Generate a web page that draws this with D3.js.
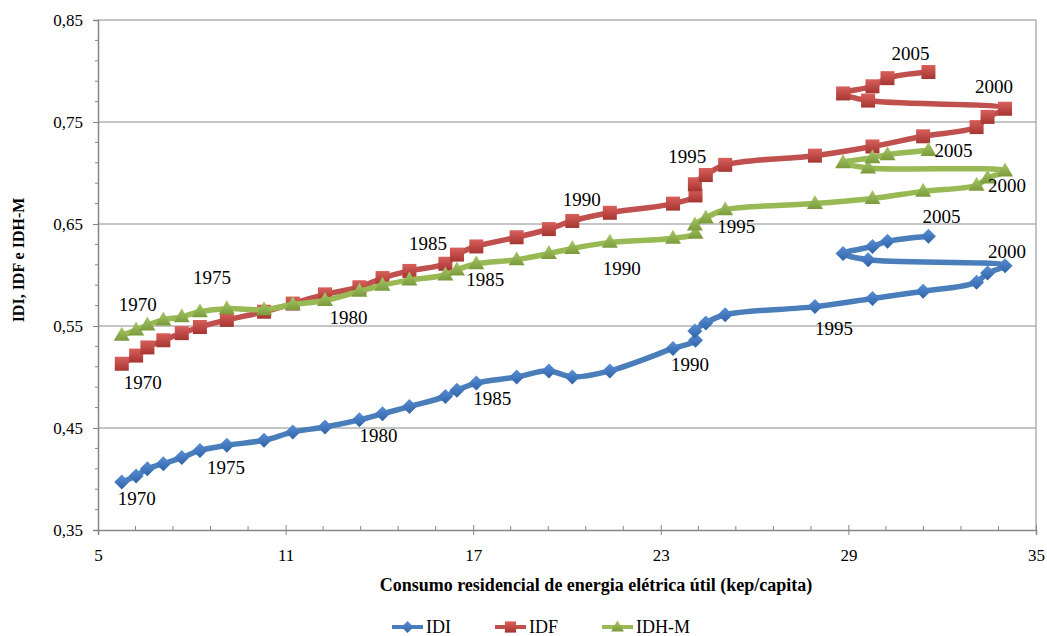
<!DOCTYPE html>
<html>
<head>
<meta charset="utf-8">
<script src="https://cdn.jsdelivr.net/npm/d3@7"></script>
<style>
  body { margin: 0; background: #fff; }
  svg { font-family: "Liberation Serif", "Times New Roman", serif; }
</style>
</head>
<body>
<div id="chart"></div>
<script>
// consumo residencial de energia elétrica útil (kep/capita), 1970-2005
var consumo = [5.76, 6.22, 6.58, 7.09, 7.68, 8.26, 9.12, 10.31, 11.23, 12.26,
               13.36, 14.10, 14.96, 16.11, 16.48, 17.10, 18.39, 19.42, 20.17, 21.37,
               23.39, 24.11, 24.09, 24.44, 25.06, 27.93, 29.77, 31.39, 33.10, 33.45,
               34.01, 29.63, 28.83, 29.77, 30.25, 31.56];

var idi = [0.397, 0.403, 0.410, 0.415, 0.421, 0.428, 0.433, 0.438, 0.446, 0.451,
           0.458, 0.464, 0.471, 0.481, 0.487, 0.494, 0.500, 0.506, 0.500, 0.506,
           0.528, 0.536, 0.545, 0.553, 0.561, 0.569, 0.577, 0.584, 0.593, 0.602,
           0.609, 0.615, 0.621, 0.628, 0.633, 0.638];

var idf = [0.513, 0.521, 0.529, 0.536, 0.543, 0.549, 0.556, 0.564, 0.572, 0.581,
           0.588, 0.597, 0.604, 0.611, 0.620, 0.628, 0.637, 0.645, 0.653, 0.661,
           0.670, 0.678, 0.689, 0.698, 0.708, 0.717, 0.726, 0.736, 0.745, 0.755,
           0.763, 0.771, 0.778, 0.785, 0.793, 0.799];

var idhm = [0.541, 0.546, 0.551, 0.556, 0.559, 0.564, 0.567, 0.566, 0.571, 0.575,
            0.584, 0.590, 0.595, 0.600, 0.605, 0.611, 0.615, 0.621, 0.626, 0.632,
            0.636, 0.641, 0.649, 0.656, 0.664, 0.670, 0.675, 0.682, 0.688, 0.695,
            0.702, 0.705, 0.710, 0.715, 0.718, 0.722];

var xTicks = [5, 11, 17, 23, 29, 35];
var yTicks = [0.35, 0.45, 0.55, 0.65, 0.75, 0.85];

// year labels: point index and text
var idiLabels  = [[0, "1970"], [5, "1975"], [10, "1980"], [15, "1985"], [20, "1990"], [25, "1995"], [30, "2000"], [35, "2005"]];
var idfLabels  = [[0, "1970"], [14, "1985"], [19, "1990"], [24, "1995"], [30, "2000"], [35, "2005"]];
var idhmLabels = [[0, "1970"], [5, "1975"], [10, "1980"], [15, "1985"], [19, "1990"], [24, "1995"], [30, "2000"], [35, "2005"]];

// label offsets in px from the point
var idiOff  = [[15, 16], [26, 17], [19, 16], [16, 15], [17, 16], [19, 22], [2, -14], [13, -20]];
var idfOff  = [[21, 19], [-29, -11], [-28, -13], [-38, -8], [-11, -22], [-18, -19]];
var idhmOff = [[16, -31], [12, -34], [-11, 26], [9, 16], [12, 26], [11, 17], [2, 14], [25, 0]];

var width = 1047, height = 636;

var svg = d3.select("#chart").append("svg")
    .attr("width", width)
    .attr("height", height);

var x = d3.scaleLinear().domain([5, 35]).range([98, 1036]);
var y = d3.scaleLinear().domain([0.35, 0.85]).range([530, 20]);

var fmt = function(d) { return d3.format(".2f")(d).replace(".", ","); };

// gradients for markers
var defs = svg.append("defs");
function grad(id, top, bottom) {
  var g = defs.append("linearGradient").attr("id", id)
      .attr("x1", 0).attr("y1", 0).attr("x2", 0).attr("y2", 1);
  g.append("stop").attr("offset", "0%").attr("stop-color", top);
  g.append("stop").attr("offset", "100%").attr("stop-color", bottom);
}
grad("gBlue", "#5a8fd6", "#2f63a8");
grad("gRed", "#d9605c", "#a53532");
grad("gGreen", "#a8c96a", "#7a9a3c");

// gridlines
svg.append("g").selectAll("line")
  .data(yTicks.slice(1))
  .enter().append("line")
  .attr("x1", x(5)).attr("x2", x(35))
  .attr("y1", function(d) { return y(d); })
  .attr("y2", function(d) { return y(d); })
  .attr("stroke", "#8c8c8c")
  .attr("stroke-width", 1);

// right border
svg.append("line")
  .attr("x1", x(35)).attr("x2", x(35))
  .attr("y1", y(0.85)).attr("y2", y(0.35))
  .attr("stroke", "#8c8c8c");

// y axis
var yAxis = d3.axisLeft(y).tickValues(yTicks).tickFormat(fmt).tickSize(5).tickPadding(10);
var gy = svg.append("g").attr("transform", "translate(" + x(5) + ",0)").call(yAxis);
gy.select(".domain").attr("stroke", "#868686").attr("stroke-width", 1.5);
gy.selectAll(".tick line").attr("stroke", "#868686");
gy.selectAll("text").attr("font-size", 17).attr("fill", "#000")
  .attr("font-family", "Liberation Serif");
var yMinor = d3.range(0.37, 0.85, 0.02).filter(function(v) { return Math.abs((v - 0.35) / 0.1 - Math.round((v - 0.35) / 0.1)) > 0.01; });
svg.append("g").selectAll("line").data(yMinor).enter().append("line")
  .attr("x1", x(5) - 3).attr("x2", x(5))
  .attr("y1", function(d) { return y(d); }).attr("y2", function(d) { return y(d); })
  .attr("stroke", "#868686");

// x axis
var xAxis = d3.axisBottom(x).tickValues(xTicks).tickSize(5).tickPadding(14);
var gx = svg.append("g").attr("transform", "translate(0," + y(0.35) + ")").call(xAxis);
gx.select(".domain").attr("stroke", "#868686").attr("stroke-width", 1.5);
gx.selectAll(".tick line").attr("stroke", "#868686").attr("y1", -5);
gx.selectAll("text").attr("font-size", 17).attr("fill", "#000")
  .attr("font-family", "Liberation Serif");
var xMinor = d3.range(6.2, 35, 1.2).filter(function(v) { return Math.abs((v - 5) / 6 - Math.round((v - 5) / 6)) > 0.01; });
svg.append("g").selectAll("line").data(xMinor).enter().append("line")
  .attr("x1", function(d) { return x(d); }).attr("x2", function(d) { return x(d); })
  .attr("y1", y(0.35) - 4).attr("y2", y(0.35))
  .attr("stroke", "#868686");

// axis titles
svg.append("text")
  .attr("x", 596).attr("y", 591)
  .attr("text-anchor", "middle")
  .attr("font-size", 18).attr("font-weight", "bold")
  .text("Consumo residencial de energia elétrica útil (kep/capita)");

svg.append("text")
  .attr("transform", "translate(24,260) rotate(-90)")
  .attr("text-anchor", "middle")
  .attr("font-size", 16).attr("font-weight", "bold")
  .text("IDI, IDF e IDH-M");

// markers
function marker(sel, shape, fill) {
  if (shape === "diamond") {
    sel.append("path").attr("d", "M0,-7.5L7.5,0L0,7.5L-7.5,0Z").attr("fill", fill);
  } else if (shape === "square") {
    sel.append("rect").attr("x", -7).attr("y", -7).attr("width", 14).attr("height", 14)
      .attr("fill", fill);
  } else {
    sel.append("path").attr("d", "M0,-8.5L8,5.5L-8,5.5Z").attr("fill", fill);
  }
}

var series = [
  { name: "IDI",   values: idi,  color: "#4a7ebb", fill: "url(#gBlue)",  shape: "diamond", labels: idiLabels,  off: idiOff },
  { name: "IDF",   values: idf,  color: "#c0504d", fill: "url(#gRed)",   shape: "square",  labels: idfLabels,  off: idfOff },
  { name: "IDH-M", values: idhm, color: "#98b954", fill: "url(#gGreen)", shape: "triangle", labels: idhmLabels, off: idhmOff }
];

var line = d3.line()
  .x(function(d, i) { return x(consumo[i]); })
  .y(function(d) { return y(d); })
  .curve(d3.curveCatmullRom.alpha(0.5));

series.forEach(function(s) {
  svg.append("path")
    .datum(s.values)
    .attr("d", line)
    .attr("fill", "none")
    .attr("stroke", s.color)
    .attr("stroke-width", 5.5)
    .attr("stroke-linejoin", "round");

  svg.append("g").selectAll("g")
    .data(s.values)
    .enter().append("g")
    .attr("transform", function(d, i) { return "translate(" + x(consumo[i]) + "," + y(d) + ")"; })
    .each(function() { marker(d3.select(this), s.shape, s.fill); });
});

// year labels
series.forEach(function(s) {
  svg.append("g").selectAll("text")
    .data(s.labels)
    .enter().append("text")
    .attr("x", function(d, k) { return x(consumo[d[0]]) + s.off[k][0]; })
    .attr("y", function(d, k) { return y(s.values[d[0]]) + s.off[k][1]; })
    .attr("dy", "0.35em")
    .attr("text-anchor", "middle")
    .attr("font-size", 19)
    .text(function(d) { return d[1]; });
});

// legend
var legendX = [392, 495, 602];
var lg = svg.append("g").selectAll("g")
  .data(series)
  .enter().append("g")
  .attr("transform", function(d, i) { return "translate(" + legendX[i] + ",627)"; });
lg.append("line")
  .attr("x1", 0).attr("x2", 31)
  .attr("stroke", function(d) { return d.color; })
  .attr("stroke-width", 4);
lg.each(function(d) {
  var m = d3.select(this).append("g").attr("transform", "translate(15.5,0) scale(0.8)");
  marker(m, d.shape, d.fill);
});
lg.append("text")
  .attr("x", 34).attr("dy", "0.35em")
  .attr("font-size", 18)
  .text(function(d) { return d.name; });
</script>
</body>
</html>
